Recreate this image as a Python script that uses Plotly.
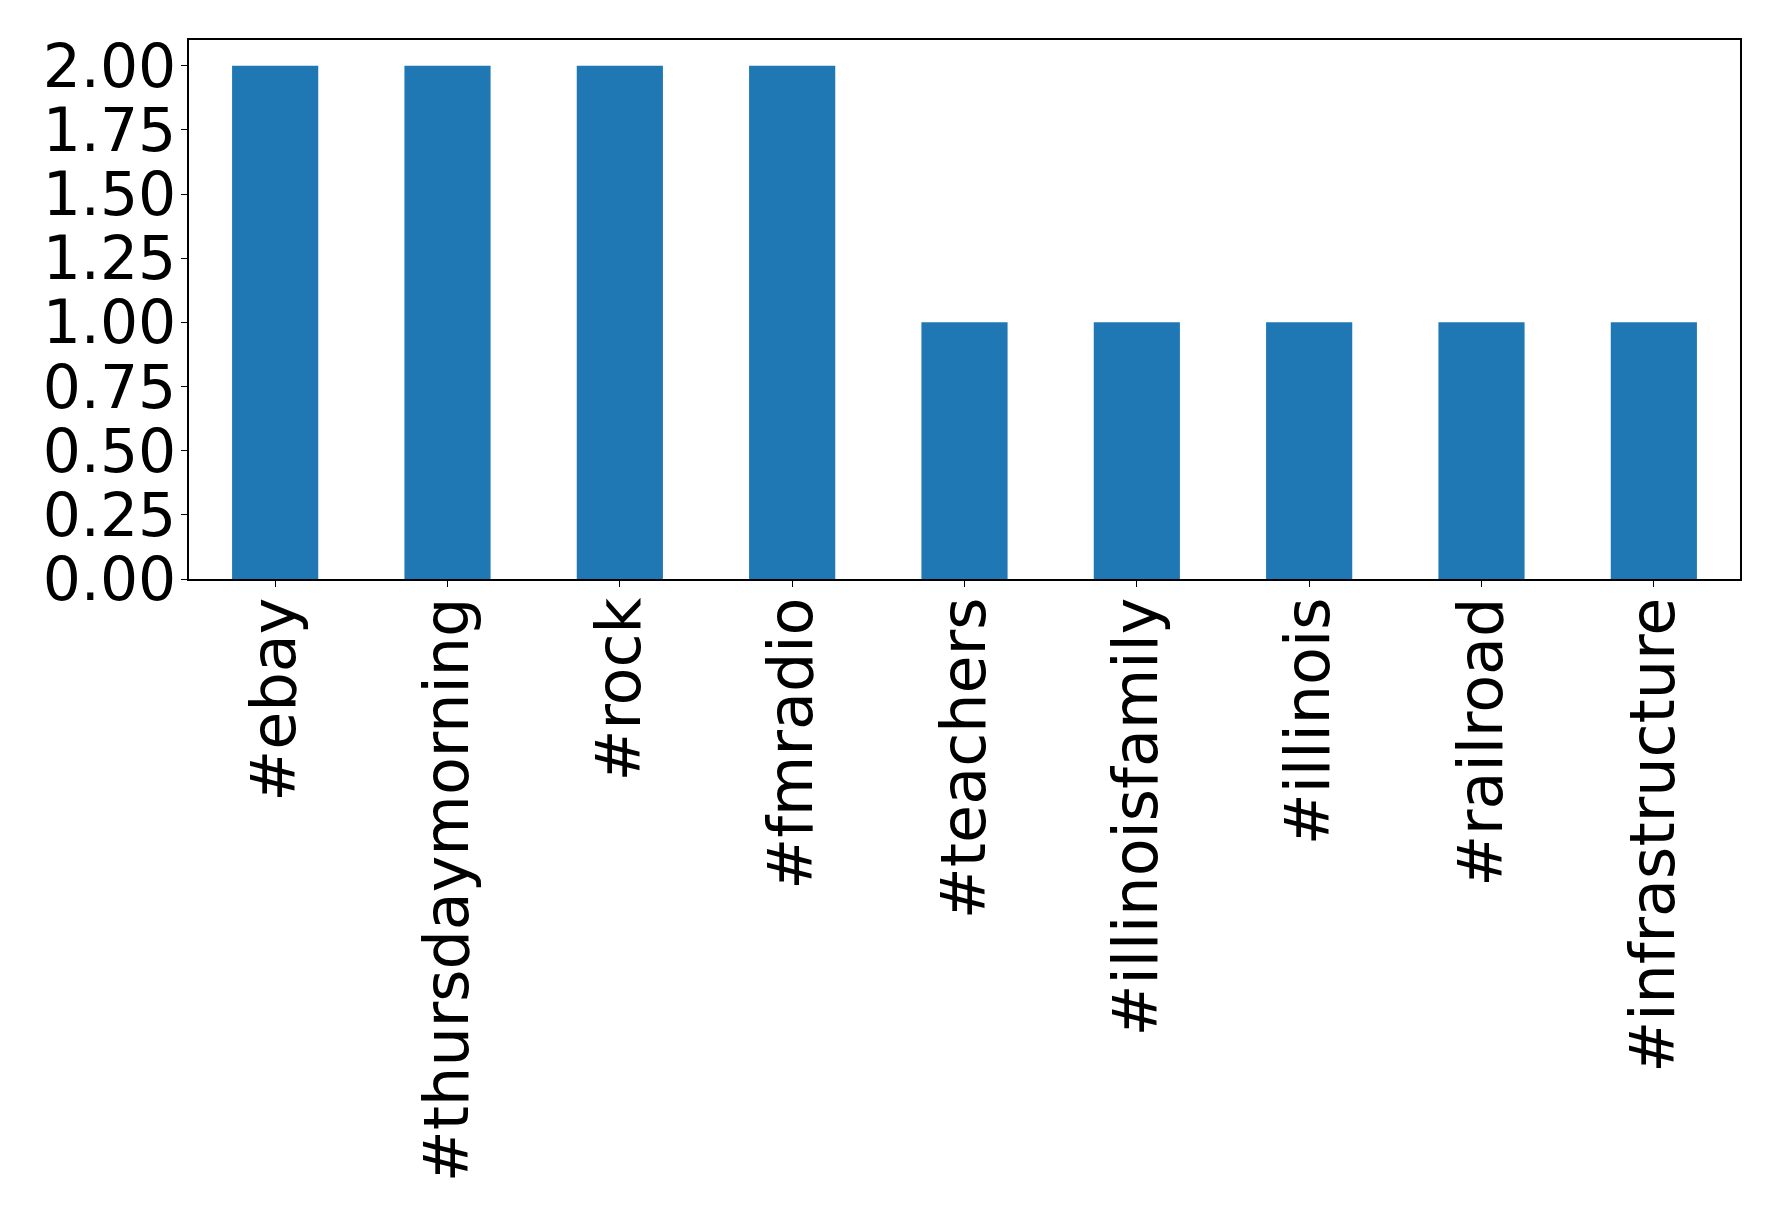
import plotly.graph_objects as go

categories = ["#ebay", "#thursdaymorning", "#rock", "#fmradio", "#teachers",
              "#illinoisfamily", "#illinois", "#railroad", "#infrastructure"]
counts = [2, 2, 2, 2, 1, 1, 1, 1, 1]
y_ticks = [0, 0.25, 0.5, 0.75, 1.0, 1.25, 1.5, 1.75, 2.0]

fig = go.Figure(go.Bar(x=categories, y=counts, marker=dict(color="#1f77b4", line=dict(width=0)), width=0.5))

font = dict(family="DejaVu Sans", size=62, color="black")
yfont = dict(family="DejaVu Sans", size=60, color="black")
fig.update_layout(
    width=1778, height=1217,
    margin=dict(l=181, r=46, t=32, b=646),
    paper_bgcolor="white", plot_bgcolor="white",
    showlegend=False,
    font=font,
)
fig.update_xaxes(
    type="category", range=[-0.5, 8.5], tickangle=-90,
    showline=True, linecolor="black", linewidth=1.5, mirror=True,
    ticks="outside", ticklen=6, tickwidth=1.2, tickcolor="black",
    showgrid=False, tickfont=font, ticklabelstandoff=-14,
)
fig.update_yaxes(
    range=[0, 2.1], tickvals=y_ticks, tickformat=".2f",
    showline=True, linecolor="black", linewidth=1.5, mirror=True,
    ticks="outside", ticklen=6, tickwidth=1.2, tickcolor="black",
    showgrid=False, zeroline=False, tickfont=yfont, ticklabelstandoff=-7,
)
fig.write_html("out.html")
